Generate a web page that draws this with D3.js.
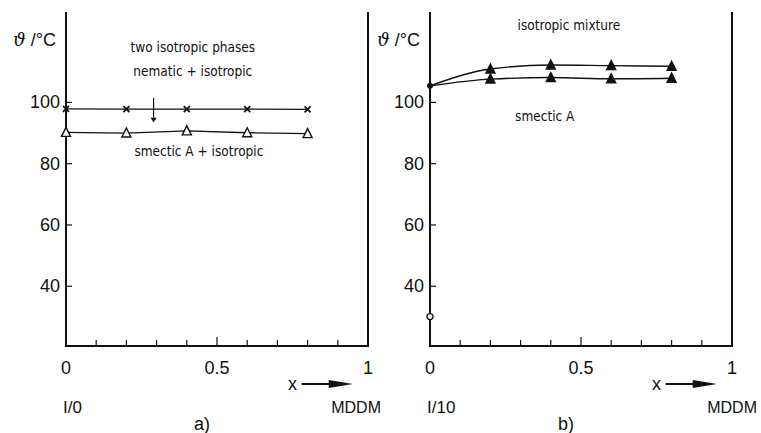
<!DOCTYPE html>
<html>
<head>
<meta charset="utf-8">
<script src="https://cdn.jsdelivr.net/npm/d3@7"></script>
<style>
  body { margin: 0; background: #fff; }
  svg text { font-family: "Liberation Sans", Arial, sans-serif; fill: #111; }
  .note { font-family: "DejaVu Sans Condensed", "Liberation Sans Narrow", sans-serif; font-size: 13.5px; }
</style>
</head>
<body>
<div id="chart"></div>
<script>
// composition x (mole fraction MDDM)
var xValues = [0, 0.2, 0.4, 0.6, 0.8];
var xTicks = [0, 0.1, 0.2, 0.3, 0.4, 0.5, 0.6, 0.7, 0.8, 0.9, 1];
var xTickLabels = ["0", "0.5", "1"];
var yTicks = [40, 60, 80, 100];

// panel a) I/0 + MDDM
var nematicIso = [97.9, 97.8, 97.8, 97.8, 97.7];
var smecticIso = [90.2, 90.0, 90.7, 90.1, 89.8];

// panel b) I/10 + MDDM
var upperB = [105.4, 110.9, 112.2, 112.0, 111.8];
var lowerB = [105.4, 107.6, 108.1, 107.7, 107.9];
var pureI10 = [{ x: 0, t: 30.1 }];

var width = 761, height = 433;
var svg = d3.select("#chart").append("svg")
    .attr("width", width)
    .attr("height", height);

var y = d3.scaleLinear().domain([20.5, 129.5]).range([346, 12]);

function drawPanel(left, right, opts) {
    var x = d3.scaleLinear().domain([0, 1]).range([left, right]);
    var g = svg.append("g");

    // frame: left axis, bottom axis, right border
    g.append("path")
        .attr("d", "M" + x(0) + "," + y.range()[1] + "V" + y.range()[0] + "H" + x(1) + "V" + y.range()[1])
        .attr("fill", "none")
        .attr("stroke", "#111")
        .attr("stroke-width", 2);

    // x ticks pointing inward
    g.selectAll(".xt").data(xTicks.slice(1, -1)).enter().append("line")
        .attr("x1", function (d) { return x(d); })
        .attr("x2", function (d) { return x(d); })
        .attr("y1", y.range()[0])
        .attr("y2", function (d) { return y.range()[0] - (Math.abs(d - 0.5) < 1e-9 ? 9 : 6); })
        .attr("stroke", "#111").attr("stroke-width", 1.2);

    // y ticks pointing inward
    g.selectAll(".yt").data(yTicks).enter().append("line")
        .attr("x1", x(0)).attr("x2", x(0) + 6)
        .attr("y1", function (d) { return y(d); })
        .attr("y2", function (d) { return y(d); })
        .attr("stroke", "#111").attr("stroke-width", 1.2);

    g.selectAll(".yl").data(yTicks).enter().append("text")
        .attr("x", x(0) - 6)
        .attr("y", function (d) { return y(d) + 6; })
        .attr("text-anchor", "end")
        .style("font-size", "18px")
        .text(function (d) { return d; });

    g.selectAll(".xl").data(xTickLabels).enter().append("text")
        .attr("x", function (d) { return x(+d); })
        .attr("y", 374)
        .attr("text-anchor", "middle")
        .style("font-size", "18px")
        .text(function (d) { return d; });

    // y title
    var yt = g.append("text")
        .attr("x", x(0) - 10)
        .attr("y", 46)
        .attr("text-anchor", "end")
        .style("font-size", "18px");
    yt.append("tspan").style("font-family", "DejaVu Serif, serif").style("font-style", "italic").text("ϑ");
    yt.append("tspan").text(" /°C");

    // x arrow
    g.append("text")
        .attr("x", x(0.75))
        .attr("y", 390)
        .attr("text-anchor", "middle")
        .style("font-size", "18px")
        .text("x");
    g.append("line")
        .attr("x1", x(0.78)).attr("x2", x(0.9))
        .attr("y1", 384).attr("y2", 384)
        .attr("stroke", "#111").attr("stroke-width", 2);
    g.append("path")
        .attr("d", "M" + x(0.87) + ",380L" + x(0.95) + ",384L" + x(0.87) + ",388Z")
        .attr("fill", "#111");

    g.append("text")
        .attr("x", x(0) - 3)
        .attr("y", 413)
        .style("font-size", "17px")
        .text(opts.leftName);
    g.append("text")
        .attr("x", x(1) + opts.mddmShift)
        .attr("y", 413)
        .attr("text-anchor", "end")
        .style("font-size", "16px")
        .text("MDDM");
    g.append("text")
        .attr("x", x(0.45))
        .attr("y", 430)
        .attr("text-anchor", "middle")
        .style("font-size", "18px")
        .text(opts.tag);

    opts.notes.forEach(function (n) {
        g.append("text")
            .attr("class", "note")
            .attr("x", x(n[0]))
            .attr("y", y(n[1]))
            .attr("text-anchor", "middle")
            .text(n[2]);
    });

    return { g: g, x: x };
}

function triangle(g, cx, cy, filled) {
    g.append("path")
        .attr("d", "M" + cx + "," + (cy - 5) + "L" + (cx + 4.5) + "," + (cy + 4) + "L" + (cx - 4.5) + "," + (cy + 4) + "Z")
        .attr("fill", filled ? "#111" : "#fff")
        .attr("stroke", "#111")
        .attr("stroke-width", 1.4);
}

// ---- panel a ----
var a = drawPanel(66, 368, {
    leftName: "I/0",
    tag: "a)",
    mddmShift: 13,
    notes: [
        [0.42, 116.5, "two isotropic phases"],
        [0.42, 108.5, "nematic + isotropic"],
        [0.44, 82.5, "smectic A + isotropic"]
    ]
});

var lineA = d3.line()
    .x(function (d, i) { return a.x(xValues[i]); })
    .y(function (d) { return y(d); });

a.g.append("path").attr("d", lineA(nematicIso))
    .attr("fill", "none").attr("stroke", "#111").attr("stroke-width", 1.3);
a.g.append("path").attr("d", lineA(smecticIso))
    .attr("fill", "none").attr("stroke", "#111").attr("stroke-width", 1.3);

nematicIso.forEach(function (t, i) {
    var cx = a.x(xValues[i]), cy = y(t);
    a.g.append("path")
        .attr("d", "M" + (cx - 3) + "," + (cy - 3) + "L" + (cx + 3) + "," + (cy + 3) + "M" + (cx + 3) + "," + (cy - 3) + "L" + (cx - 3) + "," + (cy + 3))
        .attr("stroke", "#111").attr("stroke-width", 1.8);
});
smecticIso.forEach(function (t, i) {
    triangle(a.g, a.x(xValues[i]), y(t), false);
});

// arrow pointing into the narrow nematic + isotropic region
a.g.append("line")
    .attr("x1", a.x(0.29)).attr("x2", a.x(0.29))
    .attr("y1", y(101.5)).attr("y2", y(95))
    .attr("stroke", "#111").attr("stroke-width", 1.2);
a.g.append("path")
    .attr("d", "M" + (a.x(0.29) - 3) + "," + y(95) + "L" + (a.x(0.29) + 3) + "," + y(95) + "L" + a.x(0.29) + "," + y(93.4) + "Z")
    .attr("fill", "#111");

// ---- panel b ----
var b = drawPanel(430, 732, {
    leftName: "I/10",
    tag: "b)",
    mddmShift: 25,
    notes: [
        [0.46, 123.5, "isotropic mixture"],
        [0.38, 94, "smectic A"]
    ]
});

var lineB = d3.line()
    .x(function (d, i) { return b.x(xValues[i]); })
    .y(function (d) { return y(d); })
    .curve(d3.curveMonotoneX);

b.g.append("path").attr("d", lineB(upperB))
    .attr("fill", "none").attr("stroke", "#111").attr("stroke-width", 1.4);
b.g.append("path").attr("d", lineB(lowerB))
    .attr("fill", "none").attr("stroke", "#111").attr("stroke-width", 1.4);

b.g.append("circle")
    .attr("cx", b.x(xValues[0])).attr("cy", y(upperB[0])).attr("r", 3)
    .attr("fill", "#111");
upperB.slice(1).forEach(function (t, i) {
    triangle(b.g, b.x(xValues[i + 1]), y(t), true);
});
lowerB.slice(1).forEach(function (t, i) {
    triangle(b.g, b.x(xValues[i + 1]), y(t), true);
});

b.g.selectAll(".pure").data(pureI10).enter().append("circle")
    .attr("cx", function (d) { return b.x(d.x); })
    .attr("cy", function (d) { return y(d.t); })
    .attr("r", 3)
    .attr("fill", "#fff").attr("stroke", "#111").attr("stroke-width", 1.3);
</script>
</body>
</html>
